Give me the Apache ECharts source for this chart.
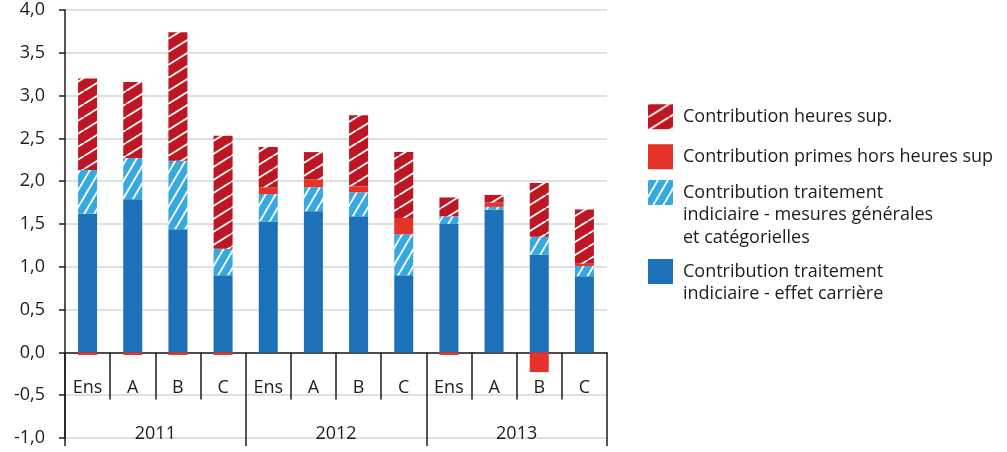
<!DOCTYPE html>
<html>
<head>
<meta charset="utf-8">
<script src="https://cdn.jsdelivr.net/npm/echarts@6/dist/echarts.min.js"></script>
<style>
html,body{margin:0;padding:0;background:#fff;}
#c{width:1007px;height:452px;}
</style>
</head>
<body>
<div id="c"></div>
<script>
// ---- data ----
const categories = ['Ens','A','B','C','Ens','A','B','C','Ens','A','B','C'];
const years = ['2011','2012','2013'];
const carriere = [1.62,1.79,1.44,0.90, 1.53,1.65,1.59,0.90, 1.50,1.67,1.14,0.89];
const mesures  = [0.51,0.48,0.80,0.31, 0.32,0.28,0.28,0.48, 0.09,0.03,0.21,0.12];
const primes   = [-0.03,-0.03,-0.03,-0.03, 0.08,0.09,0.07,0.19, -0.03,0.05,-0.23,0.03];
const heures   = [1.07,0.89,1.50,1.32, 0.47,0.32,0.83,0.77, 0.22,0.09,0.63,0.63];
const seriesNames = [
  'Contribution heures sup.',
  'Contribution primes hors heures sup',
  'Contribution traitement\nindiciaire - mesures générales\net catégorielles',
  'Contribution traitement\nindiciaire - effet carrière'
];

function hatch(bg, w, h, lw){
  const cv = document.createElement('canvas');
  cv.width = w; cv.height = h;
  const ctx = cv.getContext('2d');
  ctx.fillStyle = bg; ctx.fillRect(0,0,w,h);
  ctx.strokeStyle = '#ffffff'; ctx.lineWidth = lw;
  [-w,0,w].forEach(function(dx){
    ctx.beginPath(); ctx.moveTo(dx, h); ctx.lineTo(dx + w, 0); ctx.stroke();
  });
  return {image: cv, repeat: 'repeat'};
}
const cDarkBlue = '#1d71b8';
const cLightBlue = '#36a9e1';
const cRed = '#e6332a';
const cDarkRed = '#be1622';
const pRed = hatch(cDarkRed, 21, 13, 1.9);
const pBlue = hatch(cLightBlue, 10, 17, 1.9);

const FONT = 'Open Sans';
const TXT = '#1d1d1b';
const FS = 18;
const LH = 22.5;

// icon top (px) and number of text lines for each legend entry
function legendFor(name, iconTop, lines){
  const pre = new Array(lines).join('\n');
  return {
    data:[{name:name, icon:'rect'}],
    orient:'vertical', left:648,
    top: iconTop + 12.5 - (2*lines-1)*LH/2,
    padding:0,
    itemWidth:25, itemHeight:25,
    formatter:function(n){return pre + n;},
    textStyle:{fontFamily:FONT, fontSize:FS, color:TXT, lineHeight:LH, padding:[0,0,0,5]}
  };
}

const chart = echarts.init(document.getElementById('c'), null, {renderer:'canvas'});
chart.setOption({
  animation:false,
  textStyle:{fontFamily:FONT},
  grid:{left:65, right:400, top:10, bottom:14, containLabel:false, outerBoundsMode:'none'},
  legend:[
    legendFor(seriesNames[0], 103, 1),
    legendFor(seriesNames[1], 143, 1),
    legendFor(seriesNames[2], 180, 3),
    legendFor(seriesNames[3], 259, 2)
  ],
  xAxis:[{
    type:'category', data:categories, position:'bottom', offset:-85.6,
    axisLine:{show:true, onZero:false, lineStyle:{color:'#1d1d1b', width:1.5}},
    axisTick:{show:true, length:47, lineStyle:{color:'#1d1d1b', width:1.5}},
    axisLabel:{margin:26, fontSize:FS, color:TXT, fontFamily:FONT, interval:0},
    splitLine:{show:false}
  },{
    type:'category', data:years, position:'bottom', offset:-85.6,
    axisLine:{show:false, onZero:false},
    axisTick:{show:true, length:93.5, lineStyle:{color:'#1d1d1b', width:1.5}},
    axisLabel:{margin:72, fontSize:FS, color:TXT, fontFamily:FONT},
    splitLine:{show:false}
  }],
  yAxis:{
    type:'value', min:-1, max:4, interval:0.5,
    axisLine:{show:true, lineStyle:{color:'#1d1d1b', width:1.5}},
    axisTick:{show:true, length:6, lineStyle:{color:'#1d1d1b', width:1.5}},
    axisLabel:{margin:20, fontSize:FS, color:TXT, fontFamily:FONT,
      formatter:function(v){return v.toFixed(1).replace('.',',');}},
    splitLine:{show:true, lineStyle:{color:'#d6d6d6', width:1.5}}
  },
  series:[
    {name:seriesNames[3], type:'bar', stack:'t', barWidth:19, data:carriere, itemStyle:{color:cDarkBlue}},
    {name:seriesNames[2], type:'bar', stack:'t', barWidth:19, data:mesures, itemStyle:{color:pBlue}},
    {name:seriesNames[1], type:'bar', stack:'t', barWidth:19, data:primes, itemStyle:{color:cRed}},
    {name:seriesNames[0], type:'bar', stack:'t', barWidth:19, data:heures, itemStyle:{color:pRed}}
  ]
});
</script>
</body>
</html>
